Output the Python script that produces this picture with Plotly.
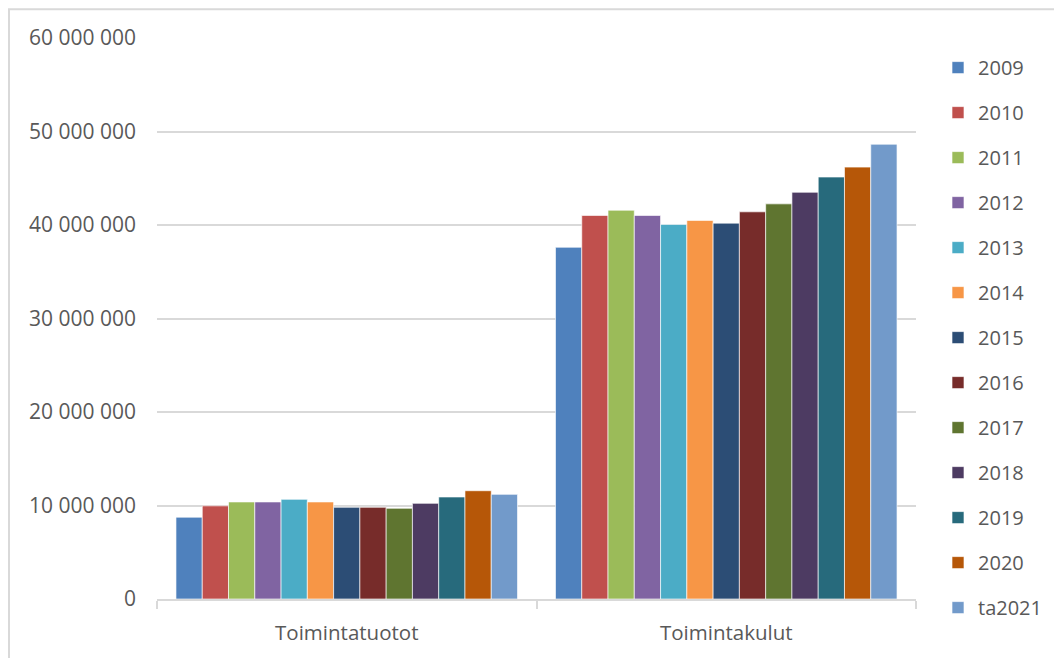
import plotly.graph_objects as go

categories = ["Toimintatuotot", "Toimintakulut"]
years = ["2009", "2010", "2011", "2012", "2013", "2014", "2015", "2016", "2017", "2018", "2019", "2020", "ta2021"]
tuotot = [8750000, 9960000, 10380000, 10380000, 10660000, 10380000, 9810000, 9810000, 9700000, 10230000, 10910000, 11580000, 11190000]
kulut = [37620000, 41020000, 41580000, 41020000, 40060000, 40490000, 40200000, 41410000, 42260000, 43500000, 45130000, 46190000, 48640000]
colors = ["#4F81BD", "#C0504D", "#9BBB59", "#8064A2", "#4BACC6", "#F79646", "#2C4D75",
          "#772C2A", "#5F7530", "#4D3B62", "#276A7C", "#B65708", "#729ACA"]
ytick_vals = [0, 10000000, 20000000, 30000000, 40000000, 50000000, 60000000]

fig = go.Figure()
for i, y in enumerate(years):
    fig.add_trace(go.Bar(
        name=y, x=categories, y=[tuotot[i], kulut[i]],
        marker=dict(color=colors[i], line=dict(color="rgba(255,255,255,0.8)", width=0.8)),
        legendgroup=y,
    ))

FAM = "Open Sans, Liberation Sans, sans-serif"
font = dict(family=FAM, size=20, color="#595959")

# page body has an 8px margin, so the figure is drawn 8px smaller and offset
W, H = 1054, 650
L, T = 149, 30
R, B = 146, 55

fig.update_layout(
    width=W, height=H,
    margin=dict(l=L, r=R, t=T, b=B),
    paper_bgcolor="white", plot_bgcolor="white",
    barmode="group", bargap=0.1, bargroupgap=0,
    separators=". ",
    font=font,
    showlegend=True,
    legend=dict(x=1.029, y=0.982, xanchor="left", yanchor="top",
                font=dict(family=FAM, size=20, color="#595959"),
                tracegroupgap=16, bgcolor="rgba(0,0,0,0)", maxheight=900),
    xaxis=dict(showline=True, linecolor="#d9d9d9", linewidth=1.5, ticks="outside",
               tickson="boundaries", ticklen=8, tickcolor="#d9d9d9", tickwidth=1.5,
               showgrid=False, tickfont=dict(family=FAM, size=20.5, color="#595959"),
               ticklabelstandoff=15),
    yaxis=dict(range=[0, 60000000], tickvals=ytick_vals, tickformat=",d",
               showgrid=True, gridcolor="#d9d9d9", gridwidth=1.5, zeroline=False,
               showline=False, ticks="", tickfont=dict(family=FAM, size=21, color="#595959"),
               ticklabelstandoff=20),
    shapes=[dict(type="rect", xref="paper", yref="paper",
                 x0=(1 - L) / 759, x1=(1075 - L) / 759,
                 y0=(595 - 680) / 565, y1=(595 - 1) / 565,
                 line=dict(color="#d9d9d9", width=2), fillcolor="rgba(0,0,0,0)", layer="below")],
)

fig.write_html("out.html")
